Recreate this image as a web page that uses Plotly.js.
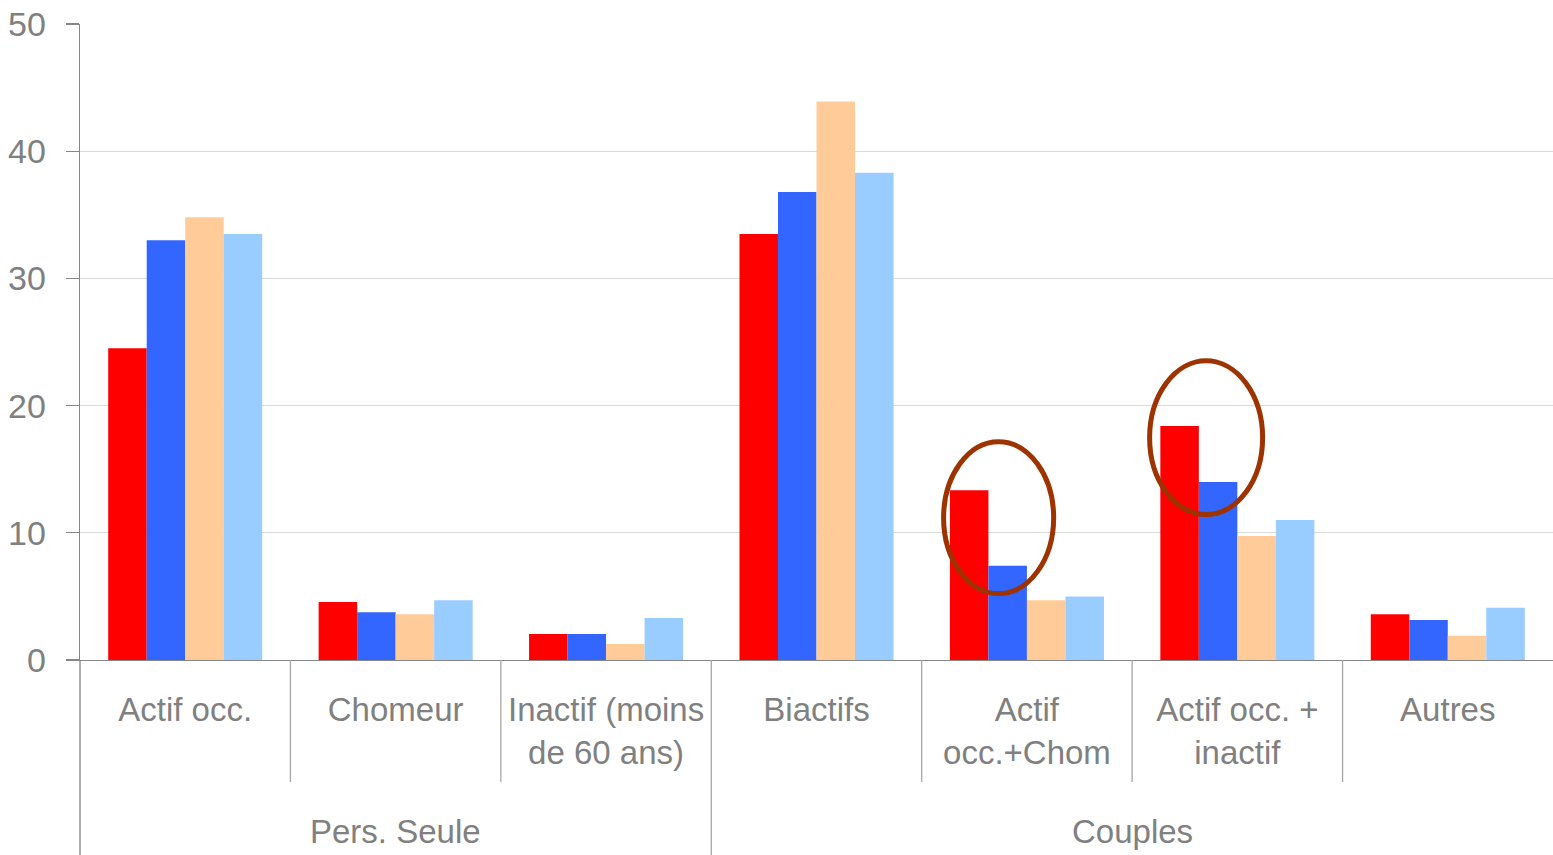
<!DOCTYPE html>
<html>
<head>
<meta charset="utf-8">
<script src="https://cdn.plot.ly/plotly-3.0.1.min.js"></script>
<style>html,body{margin:0;padding:0;background:#fff;}#chart{width:1553px;height:855px;}</style>
</head>
<body>
<div id="chart"></div>
<script>
const categories = ["Actif occ.", "Chomeur", "Inactif (moins<br>de 60 ans)", "Biactifs", "Actif<br>occ.+Chom", "Actif occ. +<br>inactif", "Autres"];
const groups = [
  {label: "Pers. Seule", first: 0, last: 2},
  {label: "Couples", first: 3, last: 6}
];
const seriesRed = [24.5, 4.55, 2.05, 33.5, 13.35, 18.4, 3.6];
const seriesBlue = [33.0, 3.75, 2.05, 36.8, 7.4, 14.0, 3.15];
const seriesPeach = [34.8, 3.6, 1.25, 43.9, 4.7, 9.75, 1.9];
const seriesLightBlue = [33.5, 4.7, 3.3, 38.3, 5.0, 11.0, 4.1];
const yTicks = [0, 10, 20, 30, 40, 50];

const FONT = "'Liberation Sans Narrow', 'Liberation Sans', Arial, sans-serif";
const GRAY = "#868686";
const TXT = "#808080";

const idx = categories.map((c, i) => i);
function bar(vals, color) {
  return {type: "bar", x: idx, y: vals, marker: {color: color, line: {width: 0}}, hoverinfo: "y"};
}
const data = [
  bar(seriesRed, "#FF0000"),
  bar(seriesBlue, "#3366FF"),
  bar(seriesPeach, "#FFCC99"),
  bar(seriesLightBlue, "#99CCFF")
];

const shapes = [];
for (let i = 1; i < categories.length; i++) {
  const isGroupEdge = groups.some(g => g.first === i);
  shapes.push({type: "line", xref: "x", yref: "paper", x0: i - 0.5, x1: i - 0.5,
    y0: 0, y1: isGroupEdge ? -0.32 : -0.1917, line: {color: "#a6a6a6", width: 1.3}});
}
shapes.push({type: "line", xref: "paper", yref: "paper", x0: 0, x1: 0, y0: 0, y1: -0.32, line: {color: GRAY, width: 1.3}});
shapes.push({type: "circle", xref: "x", yref: "y", x0: 3.604, x1: 4.127, y0: 5.22, y1: 17.16, line: {color: "#9C3300", width: 5}});
shapes.push({type: "circle", xref: "x", yref: "y", x0: 4.583, x1: 5.120, y0: 11.43, y1: 23.53, line: {color: "#9C3300", width: 5}});

const annotations = groups.map(g => ({
  xref: "x", yref: "paper", x: (g.first + g.last) / 2, y: -0.27, text: g.label, showarrow: false,
  font: {family: FONT, size: 33, color: TXT}, xanchor: "center", yanchor: "middle"
}));

const layout = {
  width: 1553, height: 855,
  margin: {l: 80, r: 0, t: 23.5, b: 195},
  paper_bgcolor: "#fff", plot_bgcolor: "#fff",
  barmode: "group", bargap: 0.268, bargroupgap: 0,
  showlegend: false,
  font: {family: FONT, size: 33, color: TXT},
  xaxis: {
    type: "linear", range: [-0.5, categories.length - 0.5],
    tickmode: "array", tickvals: idx, ticktext: categories,
    ticks: "", showgrid: false, zeroline: false,
    showline: true, linecolor: GRAY, linewidth: 1.3,
    tickfont: {family: FONT, size: 33, color: TXT},
    ticklabelstandoff: 20,
    fixedrange: true
  },
  yaxis: {
    range: [0, 50], tickmode: "array", tickvals: yTicks,
    ticks: "outside", ticklen: 13, tickcolor: GRAY, tickwidth: 1.3,
    showline: true, linecolor: GRAY, linewidth: 1.3,
    gridcolor: "#d9d9d9", gridwidth: 1.3, zeroline: false,
    tickfont: {family: FONT, size: 34, color: TXT},
    ticklabelstandoff: 13,
    fixedrange: true
  },
  shapes: shapes,
  annotations: annotations
};

Plotly.newPlot("chart", data, layout, {displayModeBar: false, staticPlot: true});
</script>
</body>
</html>
